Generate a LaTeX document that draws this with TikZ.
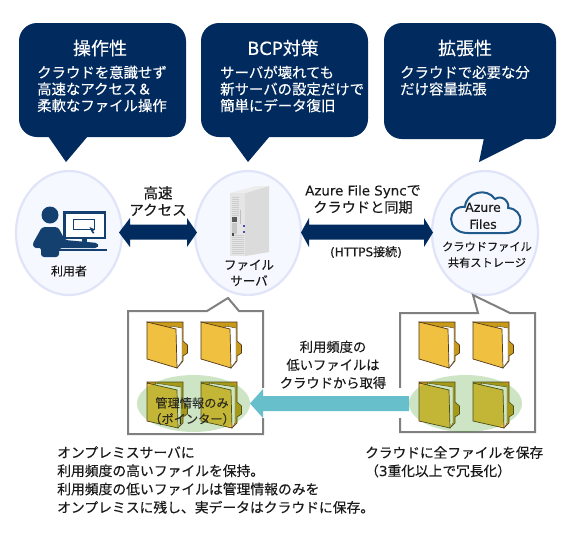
\documentclass[tikz,border=0pt]{standalone}
\usepackage{fontspec}
\setmainfont{Noto Sans CJK JP}[FakeBold=0.2]
\newfontfamily\Lt{DejaVu Sans}[FakeBold=0.2]
\usetikzlibrary{calc}
\definecolor{navy}{HTML}{012A5E}
\definecolor{iconblue}{HTML}{13406F}
\definecolor{cloudblue}{HTML}{1F5A8A}
\definecolor{circfill}{HTML}{F5F8FF}
\definecolor{circline}{HTML}{E0E4F8}
\definecolor{framegray}{HTML}{808080}
\definecolor{teal}{HTML}{67BFCC}
\definecolor{foldfront}{HTML}{F0C040}
\definecolor{foldback}{HTML}{C79A1A}
\definecolor{foldedge}{HTML}{503818}
\definecolor{inkgray}{HTML}{1A1A1A}
\newcommand{\FS}[2]{\fontsize{#1}{#2}\selectfont}
\tikzset{
  bubble/.style={fill=navy,rounded corners=18pt},
  tailfill/.style={fill=navy},
  round/.style={draw=circline,fill=circfill,line width=2.2pt},
  framebox/.style={draw=framegray,line width=2pt,fill=white,line join=miter},
  txt/.style={inner sep=0pt,text=inkgray},
  wt/.style={inner sep=0pt,text=white},
  dbl/.style={fill=navy},
  glow/.style={fill={rgb,255:red,63;green,152;blue,24},fill opacity=.25},
}
\newcommand{\foldertop}[2]{%
 \begin{scope}[shift={(#1,#2)}]
  \fill[foldback,draw=foldedge,line width=.6pt] (0,0)--(36,0)--(36,19)--(40.5,23)--(40.5,31)--(36,34)--(36,39)--(30,46)--cycle;
  \fill[white,draw=foldedge,line width=.4pt] (24,4)--(35,6)--(35,39)--(30,46)--cycle;
  \fill[foldfront,draw=foldedge,line width=.7pt] (0,0)--(29,7)--(30,46)--(0,37)--cycle;
 \end{scope}}
\newcommand{\folderlow}[2]{%
 \begin{scope}[shift={(#1,#2)}]
  \fill[foldback,draw=foldedge,line width=.6pt] (0,0)--(36,0)--(36,20)--(40.5,24)--(40.5,32)--(36,35)--(36,41)--(31,46)--cycle;
  \fill[white,draw=foldedge,line width=.4pt] (8,1)--(34,5)--(34,41)--(31,46)--cycle;
  \fill[foldfront,draw=foldedge,line width=.7pt] (0,1)--(30,8)--(31,46)--(0,39)--cycle;
 \end{scope}}
\begin{document}
\begin{tikzpicture}[x=1pt,y=-1pt]
\useasboundingbox (0,0) rectangle (570,550);
\fill[white] (0,0) rectangle (570,550);

% speech bubbles
\fill[bubble] (19,23) rectangle (186,137);
\fill[tailfill] (48,136)--(66,162)--(88,136)--cycle;
\node[wt,font=\FS{18}{20},anchor=center] (t1) at (100,48) {操作性};
\node[wt,font=\FS{14.4}{16.6},anchor=north west,align=left] (b1) at (37,65.5) {クラウドを意識せず\\高速なアクセス＆\\柔軟なファイル操作};

\fill[bubble] (201,23) rectangle (368,137);
\fill[tailfill] (229,136)--(248,162)--(270,136)--cycle;
\node[wt,font=\FS{18}{20},anchor=center] (t2) at (283,48) {{\Lt BCP}対策};
\node[wt,font=\FS{14.4}{16.6},anchor=north west,align=left] (b2) at (220,65.5) {サーバが壊れても\\新サーバの設定だけで\\簡単にデータ復旧};

\fill[bubble] (384,23) rectangle (556,139);
\fill[tailfill] (484,138)--(479,162)--(527,138)--cycle;
\node[wt,font=\FS{18}{20},anchor=center] (t3) at (465,48) {拡張性};
\node[wt,font=\FS{14.4}{16.6},anchor=north west,align=left] (b3) at (400,65.5) {クラウドで必要な分\\だけ容量拡張};

% circles
\draw[round] (69,233) ellipse (53 and 62);
\draw[round] (248,233) ellipse (53 and 62);
\draw[round] (485,233) ellipse (53 and 62);

% user icon
\fill[iconblue] (50,215) circle (8.5);
\fill[iconblue,rounded corners=3pt] (32,245)--(42,227)--(58,227)--(65,240)--(98,243)--(98,248)--(59,248)--(59,257)--(41,257)--(41,247)--(36,249)--cycle;
\fill[iconblue] (63,211) rectangle (106,239);
\fill[white] (65.5,213.5) rectangle (103.5,237);
\draw[iconblue,line width=1.5pt] (73.5,219.5) rectangle (94.5,229.5);
\fill[iconblue] (89.5,227)--(95,229.5)--(93,231)--(94.5,233)--(93,233.5)--(91.5,231.5)--cycle;
\fill[iconblue] (82,239) rectangle (87,244);
\fill[iconblue] (72,244) rectangle (98,247);
\fill[iconblue] (59,248.5) rectangle (107,251);
\node[txt,font=\FS{12}{14}] (user) at (69,271) {利用者};

% server
\fill[black!8] (245,256)--(268,252)--(262,250)--(240,254)--cycle;
\fill[gray!28] (245,193)--(269,186)--(269,252)--(245,256)--cycle;
\fill[gray!14] (230,193)--(256,186)--(269,186)--(245,193)--cycle;
\fill[gray!20] (230,193)--(245,193)--(245,256)--(230,256)--cycle;
\foreach \yy in {197,199,...,215}{\fill[gray!40] (231.5,\yy) rectangle (238.5,\yy+.8);}
\foreach \yy in {235,237,...,254}{\fill[gray!40] (231.5,\yy) rectangle (243.5,\yy+.8);}
\fill[gray!70!black] (232,217) rectangle (237,222);
\fill[gray!45] (232,223) rectangle (237,234);
\fill[black!70] (231.5,233) rectangle (234,236);
\fill[gray!50] (240,210) rectangle (241,224);
\fill[blue!40!gray] (243,224.5) rectangle (244.5,226.5);
\fill[blue!40!gray] (243,231) rectangle (244.5,233);
\node[txt,font=\FS{12.5}{16},align=center,anchor=north] (srv) at (249,259.5) {ファイル\\サーバ};

% cloud
\draw[cloudblue,line width=2pt,fill=circfill,line join=round]
 (468,233) .. controls (445,233) and (447,205) .. (465,207)
 .. controls (466,192) and (487,187) .. (495,199)
 .. controls (503,194) and (510,203) .. (508,208)
 .. controls (525,209) and (525,233) .. (506,233) -- cycle;
\node[txt,font=\FS{12.5}{17}\Lt,align=center,anchor=north] (az) at (483,202.5) {Azure\\Files};
\node[txt,font=\FS{11.2}{16},align=center,anchor=north] (st) at (487,241.5) {クラウドファイル\\共有ストレージ};

% double arrows
\fill[dbl] (119,232.5)--(130,218)--(130,224.5)--(187,224.5)--(187,218)--(197,232.5)--(187,247)--(187,239.5)--(130,239.5)--(130,247)--cycle;
\fill[dbl] (301,232.5)--(309,218)--(309,224.5)--(424,224.5)--(424,218)--(433,232.5)--(424,247)--(424,239.5)--(309,239.5)--(309,247)--cycle;
\node[txt,font=\FS{14.5}{17},align=center,anchor=north] (acc) at (158,186) {高速\\アクセス};
\node[txt,font=\FS{14.2}{17},align=center,anchor=north] (sync) at (363,185) {{\Lt\FS{13.4}{17}Azure File Sync}で\\クラウドと同期};
\node[txt,font=\FS{12}{14}] (https) at (366,252) {{\Lt (HTTPS}接続{\Lt )}};

% frames
\draw[framebox] (128,311)--(207,311)--(228,298)--(239,311)--(263,311)--(263,434)--(128,434)--cycle;
\draw[framebox] (400,313)--(478,313)--(473,295)--(510,313)--(535,313)--(535,432)--(400,432)--cycle;

% folders
\foldertop{147}{322}
\foldertop{201}{322}
\folderlow{147}{382}
\folderlow{201}{382}
\foldertop{419}{322}
\foldertop{473}{322}
\folderlow{419}{382}
\folderlow{473}{382}

% highlights
\fill[glow] (193.5,403.5) ellipse (56.5 and 28.5);
\fill[glow] (465.5,403.5) ellipse (56.5 and 28.5);
\node[txt,font=\FS{12.2}{16},align=center,anchor=north,opacity=.85] (ptr) at (192,397) {管理情報のみ\\（ポインター）};

% teal arrow
\fill[white] (256,388) rectangle (270,418);
\fill[white] (395,388) rectangle (405,418);
\fill[teal] (250,403.5)--(263,389)--(263,396)--(409,396)--(409,411)--(263,411)--(263,418)--cycle;
\node[txt,font=\FS{13.3}{18},align=center,anchor=north] (rare) at (333,340.5) {利用頻度の\\低いファイルは\\クラウドから取得};

% captions
\node[txt,font=\FS{13.8}{18.3},align=left,anchor=north west] (capl) at (57,446) {オンプレミスサーバに\\利用頻度の高いファイルを保持。\\利用頻度の低いファイルは管理情報のみを\\オンプレミスに残し、実データはクラウドに保存。};
\node[txt,font=\FS{13.7}{18.3},align=left,anchor=north west] (capr) at (365,446) {クラウドに全ファイルを保存\\（{\Lt 3}重化以上で冗長化）};
\end{tikzpicture}
\end{document}
